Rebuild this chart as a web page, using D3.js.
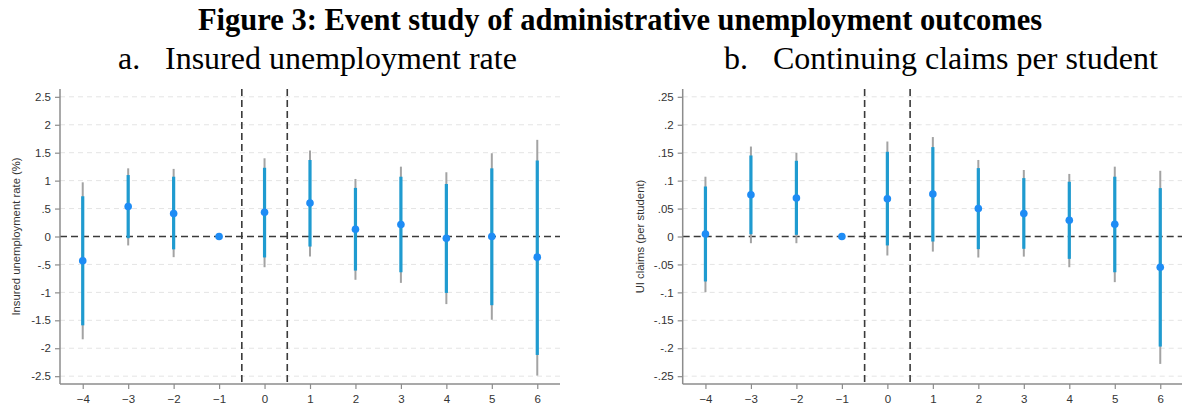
<!DOCTYPE html>
<html>
<head>
<meta charset="utf-8">
<script src="https://cdn.jsdelivr.net/npm/d3@7"></script>
<style>
  html, body { margin: 0; padding: 0; background: #fff; }
  svg { display: block; }
</style>
</head>
<body>
<svg id="chart" width="1182" height="407"></svg>
<script>
// Event time (years relative to treatment)
const eventTimes = [-4, -3, -2, -1, 0, 1, 2, 3, 4, 5, 6];

// Panel a: insured unemployment rate (%)
const rateEst   = [-0.435, 0.537, 0.41, 0, 0.435, 0.60, 0.13, 0.215, -0.03, 0.0, -0.37];
const rateLo95  = [-1.84, -0.16, -0.37, null, -0.55, -0.36, -0.775, -0.83, -1.21, -1.49, -2.49];
const rateHi95  = [0.97, 1.22, 1.21, null, 1.40, 1.54, 1.03, 1.25, 1.15, 1.49, 1.73];
const rateLo90  = [-1.59, -0.03, -0.23, null, -0.375, -0.18, -0.61, -0.64, -1.01, -1.23, -2.12];
const rateHi90  = [0.72, 1.10, 1.07, null, 1.23, 1.37, 0.87, 1.07, 0.94, 1.22, 1.36];
const rateTicks = [-2.5, -2, -1.5, -1, -0.5, 0, 0.5, 1, 1.5, 2, 2.5];

// Panel b: continuing UI claims per student
const claimEst   = [0.0043, 0.0746, 0.069, 0, 0.0675, 0.076, 0.050, 0.041, 0.029, 0.022, -0.055];
const claimLo95  = [-0.0996, -0.012, -0.012, null, -0.034, -0.027, -0.0376, -0.036, -0.055, -0.0817, -0.228];
const claimHi95  = [0.107, 0.161, 0.150, null, 0.170, 0.178, 0.137, 0.119, 0.112, 0.125, 0.1176];
const claimLo90  = [-0.0805, 0.004, 0.003, null, -0.016, -0.009, -0.0226, -0.022, -0.040, -0.064, -0.197];
const claimHi90  = [0.0895, 0.145, 0.1355, null, 0.1516, 0.160, 0.1224, 0.1045, 0.098, 0.107, 0.0866];
const claimTicks = [-0.25, -0.2, -0.15, -0.1, -0.05, 0, 0.05, 0.1, 0.15, 0.2, 0.25];

const svg = d3.select("#chart");

// Stata-style labels: drop the leading zero ("-.5", ".25")
function stataFmt(v) {
  if (v === 0) return "0";
  let s = String(+v.toFixed(4));
  return s.replace(/^(-?)0\./, "$1.");
}

// Headings
svg.append("text")
  .attr("x", 620).attr("y", 30)
  .attr("text-anchor", "middle")
  .style("font-family", "'Liberation Serif', 'Times New Roman', serif")
  .style("font-weight", "bold")
  .style("font-size", "30.5px")
  .attr("fill", "#000")
  .text("Figure 3: Event study of administrative unemployment outcomes");

function subtitle(xLetter, xText, letter, label) {
  const g = svg.append("g")
    .style("font-family", "'Liberation Serif', 'Times New Roman', serif")
    .style("font-size", "32px")
    .attr("fill", "#000");
  g.append("text").attr("x", xLetter).attr("y", 69).text(letter);
  g.append("text").attr("x", xText).attr("y", 69).text(label);
}
subtitle(118, 165, "a.", "Insured unemployment rate");
subtitle(724, 773, "b.", "Continuing claims per student");

function panel(opts) {
  const { left, right, top, bottom, yDomain, yTicks, yLabel, est, lo95, hi95, lo90, hi90 } = opts;
  const x = d3.scaleLinear().domain([-4.5, 6.5]).range([left, right]);
  const y = d3.scaleLinear().domain(yDomain).range([bottom, top]);
  const g = svg.append("g");

  // horizontal grid at each labelled value
  g.append("g").selectAll("line")
    .data(yTicks.filter(t => t !== 0))
    .join("line")
    .attr("x1", left).attr("x2", right)
    .attr("y1", d => y(d)).attr("y2", d => y(d))
    .attr("stroke", "#e4e4e4").attr("stroke-width", 1)
    .attr("stroke-dasharray", "5,4");

  // zero reference line
  g.append("line")
    .attr("x1", left).attr("x2", right)
    .attr("y1", y(0)).attr("y2", y(0))
    .attr("stroke", "#3a3a3a").attr("stroke-width", 1.6)
    .attr("stroke-dasharray", "7,4");

  // treatment window markers
  g.append("g").selectAll("line")
    .data([-0.5, 0.5])
    .join("line")
    .attr("x1", d => x(d)).attr("x2", d => x(d))
    .attr("y1", top).attr("y2", bottom)
    .attr("stroke", "#3a3a3a").attr("stroke-width", 1.6)
    .attr("stroke-dasharray", "7,4");

  const rows = eventTimes.map((t, i) => ({ t, est: est[i], lo95: lo95[i], hi95: hi95[i], lo90: lo90[i], hi90: hi90[i] }));
  const withCI = rows.filter(d => d.lo95 !== null);

  // 95% intervals
  g.append("g").selectAll("line")
    .data(withCI)
    .join("line")
    .attr("x1", d => x(d.t)).attr("x2", d => x(d.t))
    .attr("y1", d => y(d.lo95)).attr("y2", d => y(d.hi95))
    .attr("stroke", "#a3a3a3").attr("stroke-width", 2);

  // 90% intervals
  g.append("g").selectAll("line")
    .data(withCI)
    .join("line")
    .attr("x1", d => x(d.t)).attr("x2", d => x(d.t))
    .attr("y1", d => y(d.lo90)).attr("y2", d => y(d.hi90))
    .attr("stroke", "#1f9bd0").attr("stroke-width", 3.2);

  // point estimates
  g.append("g").selectAll("circle")
    .data(rows)
    .join("circle")
    .attr("cx", d => x(d.t)).attr("cy", d => y(d.est))
    .attr("r", 3.8)
    .attr("fill", "#1e8cf5");

  // axes
  const yAxis = d3.axisLeft(y).tickValues(yTicks).tickFormat(stataFmt).tickSize(5).tickPadding(4);
  const yg = g.append("g").attr("transform", `translate(${left},0)`).call(yAxis);
  const xAxis = d3.axisBottom(x).tickValues(eventTimes).tickFormat(d3.format("d")).tickSize(5).tickPadding(6);
  const xg = g.append("g").attr("transform", `translate(0,${bottom})`).call(xAxis);
  [yg, xg].forEach(a => {
    a.select(".domain").attr("stroke", "#8c8c8c").attr("stroke-width", 1.5)
      .attr("d", a === yg ? `M0,${top}V${bottom}` : `M${left},0H${right}`);
    a.selectAll(".tick line").attr("stroke", "#8c8c8c").attr("stroke-width", 1.2);
    a.selectAll(".tick text")
      .style("font-family", "Arial, 'Liberation Sans', sans-serif")
      .style("font-size", "11.5px")
      .attr("fill", "#333");
  });

  // y-axis title
  g.append("text")
    .attr("transform", `translate(${opts.labelX},${(top + bottom) / 2}) rotate(-90)`)
    .attr("text-anchor", "middle")
    .style("font-family", "Arial, 'Liberation Sans', sans-serif")
    .style("font-size", "11.3px")
    .attr("fill", "#333")
    .text(yLabel);
}

panel({
  left: 60, right: 560, top: 89, bottom: 384,
  yDomain: [-2.64, 2.64], yTicks: rateTicks,
  yLabel: "Insured unemployment rate (%)", labelX: 20,
  est: rateEst, lo95: rateLo95, hi95: rateHi95, lo90: rateLo90, hi90: rateHi90
});

panel({
  left: 682.7, right: 1183, top: 89, bottom: 384,
  yDomain: [-0.264, 0.264], yTicks: claimTicks,
  yLabel: "UI claims (per student)", labelX: 644,
  est: claimEst, lo95: claimLo95, hi95: claimHi95, lo90: claimLo90, hi90: claimHi90
});
</script>
</body>
</html>
